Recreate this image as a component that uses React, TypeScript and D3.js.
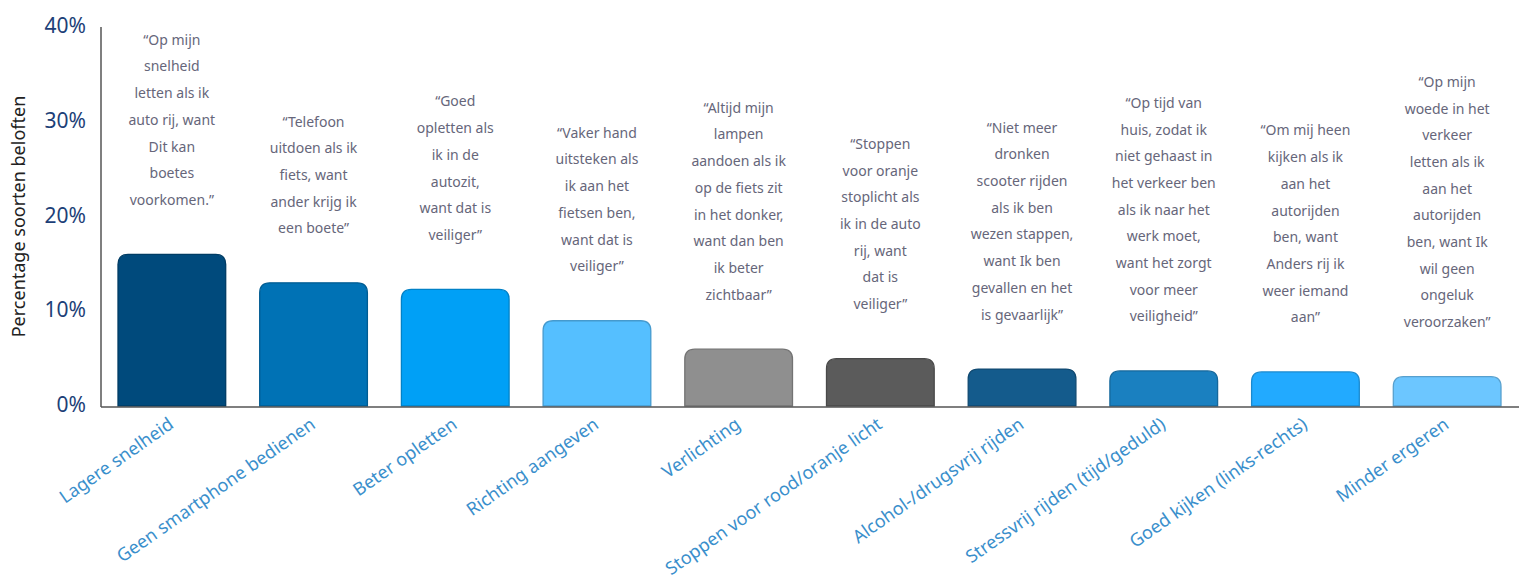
import React from "react";
import * as d3 from "d3";

const categories = [
  "Lagere snelheid",
  "Geen smartphone bedienen",
  "Beter opletten",
  "Richting aangeven",
  "Verlichting",
  "Stoppen voor rood/oranje licht",
  "Alcohol-/drugsvrij rijden",
  "Stressvrij rijden (tijd/geduld)",
  "Goed kijken (links-rechts)",
  "Minder ergeren",
];

const values = [16.0, 13.0, 12.3, 9.0, 6.0, 5.0, 3.9, 3.7, 3.6, 3.1];

const barColors = [
  "#004a7c", "#0072b5", "#00a0f6", "#55bfff", "#8f8f8f",
  "#5b5b5b", "#145b8c", "#1a80c0", "#22aaff", "#6cc6ff",
];

const yTicks = [0, 10, 20, 30, 40];

const quotes: string[][] = [
  ["“Op mijn", "snelheid", "letten als ik", "auto rij, want", "Dit kan", "boetes", "voorkomen.”"],
  ["“Telefoon", "uitdoen als ik", "fiets, want", "ander krijg ik", "een boete”"],
  ["“Goed", "opletten als", "ik in de", "autozit,", "want dat is", "veiliger”"],
  ["“Vaker hand", "uitsteken als", "ik aan het", "fietsen ben,", "want dat is", "veiliger”"],
  ["“Altijd mijn", "lampen", "aandoen als ik", "op de fiets zit", "in het donker,", "want dan ben", "ik beter", "zichtbaar”"],
  ["“Stoppen", "voor oranje", "stoplicht als", "ik in de auto", "rij, want", "dat is", "veiliger”"],
  ["“Niet meer", "dronken", "scooter rijden", "als ik ben", "wezen stappen,", "want Ik ben", "gevallen en het", "is gevaarlijk”"],
  ["“Op tijd van", "huis, zodat ik", "niet gehaast in", "het verkeer ben", "als ik naar het", "werk moet,", "want het zorgt", "voor meer", "veiligheid”"],
  ["“Om mij heen", "kijken als ik", "aan het", "autorijden", "ben, want", "Anders rij ik", "weer iemand", "aan”"],
  ["“Op mijn", "woede in het", "verkeer", "letten als ik", "aan het", "autorijden", "ben, want Ik", "wil geen", "ongeluk", "veroorzaken”"],
];

const W = 1519;
const H = 579;
const FONT = "'Noto Sans', 'Open Sans', sans-serif";

export default function App() {
  const x = d3
    .scaleBand<string>()
    .domain(categories)
    .range([101, 1518])
    .paddingInner(0.24)
    .paddingOuter(0.12);
  const y = d3.scaleLinear().domain([0, 40]).range([406, 27]);
  const r = 10;
  const lineH = 26.7;

  const barPath = (i: number) => {
    const x0 = x(categories[i])!;
    const x1 = x0 + x.bandwidth();
    const yt = y(values[i]);
    const yb = y(0);
    return `M${x0},${yb}V${yt + r}Q${x0},${yt} ${x0 + r},${yt}H${x1 - r}Q${x1},${yt} ${x1},${yt + r}V${yb}Z`;
  };

  return (
    <div style={{ position: "fixed", left: 0, top: 0 }}>
      <svg width={W} height={H} style={{ display: "block", background: "#fff" }}>
        {categories.map((c, i) => (
          <path
            key={c}
            d={barPath(i)}
            fill={barColors[i]}
            stroke={d3.color(barColors[i])!.darker(0.6).toString()}
            strokeWidth={1.3}
          />
        ))}
        {/* axes */}
        <line x1={101} x2={101} y1={27} y2={407} stroke="#555" strokeWidth={1.5} />
        <line x1={101} x2={1519} y1={407} y2={407} stroke="#555" strokeWidth={1.5} />
        {yTicks.map((t) => (
          <text
            key={t}
            x={86}
            y={y(t) - 2}
            textAnchor="end"
            dominantBaseline="central"
            fontFamily={FONT}
            fontSize={21}
            fill="#1d3f78"
          >
            {t}%
          </text>
        ))}
        <text
          transform={`translate(25,${y(20)}) rotate(-90)`}
          textAnchor="middle"
          fontFamily={FONT}
          fontSize={18}
          fill="#222"
        >
          Percentage soorten beloften
        </text>
        {/* quotes */}
        {quotes.map((lines, i) => {
          const cx = x(categories[i])! + x.bandwidth() / 2;
          const lastY = y(values[i]) - 55;
          const firstY = lastY - (lines.length - 1) * lineH;
          return (
            <g key={i}>
              {lines.map((l, j) => (
                <text
                  key={j}
                  x={cx}
                  y={firstY + j * lineH}
                  textAnchor="middle"
                  dominantBaseline="central"
                  fontFamily={FONT}
                  fontSize={14}
                  fill="#66667a"
                >
                  {l}
                </text>
              ))}
            </g>
          );
        })}
        {/* x labels */}
        {categories.map((c) => {
          const cx = x(c)! + x.bandwidth() / 2;
          return (
            <text
              key={c}
              transform={`translate(${cx + 3},${427}) rotate(-35)`}
              textAnchor="end"
              fontFamily={FONT}
              fontSize={18}
              fill="#3a8fcc"
            >
              {c}
            </text>
          );
        })}
      </svg>
    </div>
  );
}
